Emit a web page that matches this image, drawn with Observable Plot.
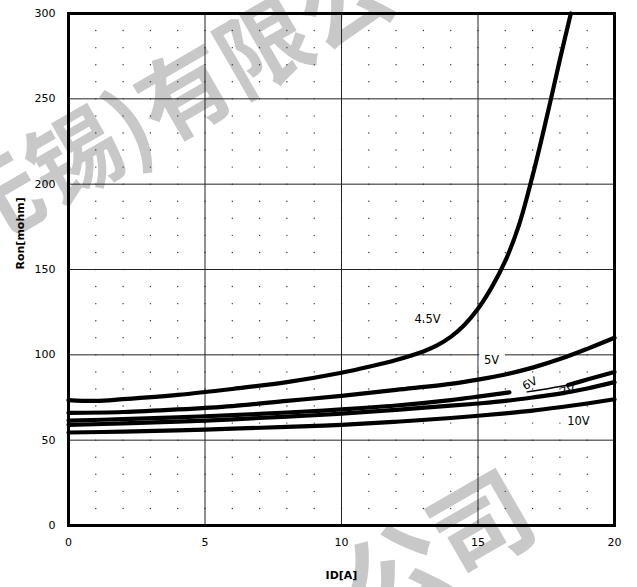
<!DOCTYPE html>
<html><head><meta charset="utf-8">
<script src="https://cdn.jsdelivr.net/npm/d3@7"></script>
<script src="https://cdn.jsdelivr.net/npm/@observablehq/plot@0.6"></script>
<style>body{margin:0;background:#fff}</style>
</head><body><div id="chart"></div>
<script>
// ---- data ----
const id45  = [0,1,2,4,6,8,10,11,12,13,13.5,14,14.5,15,15.5,16,16.5,17,17.5,18,18.4];
const ron45 = [73.5,73,74,76.5,80,84,89.5,93,97,102,105.5,110.5,117.5,127,139.5,155,176,205,238,273,300];

const id5  = [0,2,4,6,8,10,12,14,15,16,17,18,19,20];
const ron5 = [66,66.5,68,70,73,76,79.5,83,85.5,88.5,92.5,97.5,103.5,110];

const id6a  = [0,2,5,8,10,12,14,15,16.15];
const ron6a = [61.5,62.3,64,66.2,68,70.3,73.5,75.5,78];
const id6b  = [16.8,17.5,18.3];
const ron6b = [78.3,80,82.3];
const id6c  = [18.3,19,20];
const ron6c = [82.3,85.5,90];

const id7  = [0,2,5,8,10,12,14,15,16,17,18,19,20];
const ron7 = [59,59.8,61.5,63.8,65.5,67.8,70.2,71.5,73,75,77.3,80.3,84];

const id10  = [0,2,5,8,10,12,14,15,16,17,18,19,20];
const ron10 = [54.5,55,56.2,57.8,59,60.8,63,64.3,65.7,67.3,69.3,71.5,74];

const labelText = ["4.5V","5V","6V","7V","10V"];
const labelX    = [13.15,15.5,16.9,18.28,18.68];
const labelY    = [120.7,96.5,83.2,79.1,60.9];
const labelRot  = [0,0,-28,-15,0];

const xTicks = [0,5,10,15,20];
const yTicks = [0,50,100,150,200,250,300];
const xMinor = d3.range(0,21,1);
const yMinor = d3.range(0,301,10);

const watermark1 = "(无锡)有限公司";
const watermark2 = "公司";

// ---- tables ----
function series(name, xs, ys) {
  return xs.map((x,i) => ({seg:name, id:x, ron:ys[i]}));
}
const thick = [
  ...series("4.5V", id45, ron45),
  ...series("5V", id5, ron5),
  ...series("6Va", id6a, ron6a),
  ...series("6Vc", id6c, ron6c),
  ...series("7V", id7, ron7),
  ...series("10V", id10, ron10)
];
const thin = series("6Vb", id6b, ron6b);
const labels = labelText.map((t,i) => ({t, x:labelX[i], y:labelY[i], r:labelRot[i]}));
const dots = [];
for (const x of xMinor) for (const y of yMinor) {
  if (x===0 || x===20 || y===0 || y===300) continue;
  if (x%5===0 && y%50===0) continue;
  dots.push({x,y});
}

const chart = Plot.plot({
  width: 637, height: 587,
  marginLeft: 68, marginRight: 23, marginTop: 13, marginBottom: 62,
  style: {fontFamily: "DejaVu Sans", fontSize: "11px", background: "#fff", color: "#000"},
  x: {domain: [0,20]},
  y: {domain: [0,300]},
  marks: [
    Plot.text([watermark1], {text: d => d, frameAnchor: "top-left", dx: 128, dy: 78, rotate: -30,
      fontSize: 92, fontWeight: "bold", fill: "#c8c8c8", fontFamily: "Noto Sans CJK SC", textAnchor: "middle", lineAnchor: "middle"}),
    Plot.text([watermark2], {text: d => d, frameAnchor: "bottom-left", dx: 372, dy: 28, rotate: -30,
      fontSize: 100, fontWeight: "bold", fill: "#c8c8c8", fontFamily: "Noto Sans CJK SC", textAnchor: "middle", lineAnchor: "middle"}),
    Plot.dot(dots, {x: "x", y: "y", r: 0.7, fill: "#333", stroke: null}),
    Plot.ruleX(xTicks.slice(1,-1), {stroke: "#222", strokeWidth: 1}),
    Plot.ruleY(yTicks.slice(1,-1), {stroke: "#222", strokeWidth: 1}),
    Plot.axisX({ticks: xTicks, tickSize: 0, tickPadding: 13, label: null}),
    Plot.axisY({ticks: yTicks, tickSize: 0, tickPadding: 13, label: null}),
    Plot.text(["ID[A]"], {frameAnchor: "bottom", dy: 53, fontWeight: "bold", fontSize: 11}),
    Plot.text(["Ron[mohm]"], {frameAnchor: "left", dx: -48, rotate: -90, fontWeight: "bold", fontSize: 11}),
    Plot.line(thick, {x: "id", y: "ron", z: "seg", stroke: "#000", strokeWidth: 4.2, curve: "catmull-rom"}),
    Plot.line(thin, {x: "id", y: "ron", z: "seg", stroke: "#000", strokeWidth: 1.5, curve: "catmull-rom"}),
    Plot.text(labels.filter(d => d.t === "5V"), {x: "x", y: "y", text: "t", stroke: "#fff", strokeWidth: 12, fill: "#000", fontSize: 11.5}),
    Plot.text(labels.filter(d => d.t !== "5V"), {x: "x", y: "y", text: "t", rotate: "r", fill: "#000", fontSize: 11.5}),
    Plot.frame({stroke: "#000", strokeWidth: 3})
  ]
});
document.getElementById("chart").appendChild(chart);
</script>
</body></html>
